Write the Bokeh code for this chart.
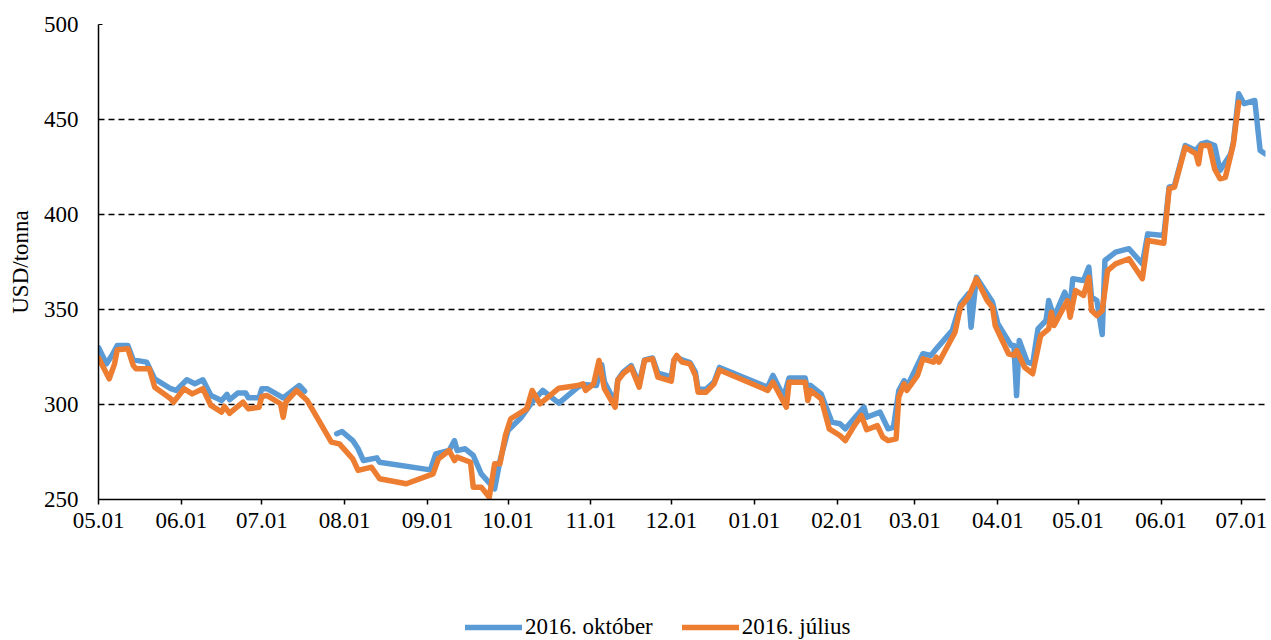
import numpy as np
import pandas as pd
from bokeh.plotting import figure
from bokeh.layouts import column
from bokeh.models import Range1d, FixedTicker, DatetimeTickFormatter, Legend, LegendItem
from bokeh.embed import file_html
from bokeh.resources import INLINE

# ---------------- data ----------------
tick_dates = ["2015-05-01", "2015-06-01", "2015-07-01", "2015-08-01", "2015-09-01", "2015-10-01",
              "2015-11-01", "2015-12-01", "2016-01-01", "2016-02-01", "2016-03-01", "2016-04-01",
              "2016-05-01", "2016-06-01", "2016-07-01"]
tick_labels = ["05.01", "06.01", "07.01", "08.01", "09.01", "10.01", "11.01", "12.01",
               "01.01", "02.01", "03.01", "04.01", "05.01", "06.01", "07.01"]

oct_dates = ["2015-05-01", "2015-05-04", "2015-05-06", "2015-05-08", "2015-05-12", "2015-05-14",
             "2015-05-19", "2015-05-22", "2015-05-28", "2015-05-30", "2015-06-03", "2015-06-06",
             "2015-06-09", "2015-06-12", "2015-06-16", "2015-06-18", "2015-06-19", "2015-06-22",
             "2015-06-25", "2015-06-26", "2015-06-30", "2015-07-01", "2015-07-03", "2015-07-09",
             "2015-07-15", "2015-07-17", "2015-07-22", "2015-07-29", "2015-07-31", "2015-08-04",
             "2015-08-06", "2015-08-08", "2015-08-13", "2015-08-14", "2015-09-02", "2015-09-04",
             "2015-09-09", "2015-09-11", "2015-09-12", "2015-09-15", "2015-09-18", "2015-09-21",
             "2015-09-26", "2015-09-28", "2015-10-01", "2015-10-06", "2015-10-10", "2015-10-14",
             "2015-10-20", "2015-10-27", "2015-10-29", "2015-11-03", "2015-11-05", "2015-11-06",
             "2015-11-10", "2015-11-11", "2015-11-13", "2015-11-16", "2015-11-19", "2015-11-21",
             "2015-11-24", "2015-11-26", "2015-12-01", "2015-12-02", "2015-12-03", "2015-12-05",
             "2015-12-08", "2015-12-10", "2015-12-11", "2015-12-14", "2015-12-17", "2015-12-19",
             "2016-01-06", "2016-01-08", "2016-01-12", "2016-01-14", "2016-01-20", "2016-01-21",
             "2016-01-22", "2016-01-26", "2016-01-30", "2016-02-02", "2016-02-04", "2016-02-11",
             "2016-02-12", "2016-02-17", "2016-02-20", "2016-02-22", "2016-02-24", "2016-02-26",
             "2016-02-27", "2016-03-04", "2016-03-07", "2016-03-09", "2016-03-15", "2016-03-18",
             "2016-03-21", "2016-03-22", "2016-03-24", "2016-03-30", "2016-04-01", "2016-04-06",
             "2016-04-07", "2016-04-08", "2016-04-09", "2016-04-12", "2016-04-14", "2016-04-16",
             "2016-04-19", "2016-04-20", "2016-04-22", "2016-04-26", "2016-04-28", "2016-04-29",
             "2016-05-03", "2016-05-05", "2016-05-06", "2016-05-08", "2016-05-10", "2016-05-11",
             "2016-05-15", "2016-05-20", "2016-05-25", "2016-05-27", "2016-06-02", "2016-06-04",
             "2016-06-06", "2016-06-10", "2016-06-14", "2016-06-16", "2016-06-18", "2016-06-21",
             "2016-06-23", "2016-06-27", "2016-06-28", "2016-06-30", "2016-07-02", "2016-07-06",
             "2016-07-08", "2016-07-10"]
oct_values = [330.0, 321.4, 325.8, 331.0, 331.0, 323.5,
              322.3, 313.5, 308.3, 307.4, 313.0, 310.9,
              313.0, 304.7, 302.1, 305.3, 302.5, 306.0,
              306.0, 303.5, 303.5, 308.3, 308.3, 303.5,
              310.0, 307.0, np.nan, 284.6, 285.8, 281.0,
              276.7, 270.5, 271.9, 269.6, 265.6, 274.0,
              275.8, 281.0, 275.8, 276.7, 273.2, 263.5,
              255.6, 270.5, 286.3, 293.3, 301.2, 307.4,
              300.7, 309.0, 310.5, 310.0, 321.0, 312.0,
              301.0, 313.0, 317.0, 320.5, 311.0, 323.5,
              324.5, 316.5, 314.5, 323.5, 325.0, 323.5,
              322.0, 317.0, 308.0, 308.0, 312.0, 319.5,
              309.1, 315.3, 303.9, 314.0, 314.0, 307.4,
              310.0, 305.6, 290.7, 289.9, 287.2, 298.6,
              293.3, 296.0, 287.2, 288.0, 307.4, 312.6,
              309.1, 326.7, 325.8, 329.3, 339.0, 353.0,
              358.3, 340.7, 367.0, 353.9, 342.5, 331.0,
              331.0, 304.7, 333.7, 322.3, 321.4, 339.8,
              344.2, 354.7, 345.9, 359.1, 351.2, 366.2,
              365.3, 372.3, 356.5, 354.7, 336.8, 375.8,
              380.2, 382.0, 374.0, 389.8, 388.9, 414.4,
              415.3, 436.3, 433.7, 437.2, 438.0, 436.3,
              423.2, 431.9, 438.0, 463.5, 458.3, 460.0,
              433.7, 431.9]

jul_dates = ["2015-05-01", "2015-05-05", "2015-05-07", "2015-05-08", "2015-05-12", "2015-05-14",
             "2015-05-15", "2015-05-20", "2015-05-22", "2015-05-28", "2015-05-29", "2015-06-02",
             "2015-06-05", "2015-06-09", "2015-06-12", "2015-06-16", "2015-06-17", "2015-06-19",
             "2015-06-24", "2015-06-26", "2015-06-30", "2015-07-01", "2015-07-03", "2015-07-08",
             "2015-07-09", "2015-07-10", "2015-07-14", "2015-07-18", "2015-07-27", "2015-07-30",
             "2015-08-04", "2015-08-06", "2015-08-11", "2015-08-14", "2015-08-24", "2015-09-03",
             "2015-09-05", "2015-09-09", "2015-09-11", "2015-09-12", "2015-09-17", "2015-09-18",
             "2015-09-21", "2015-09-24", "2015-09-26", "2015-09-28", "2015-09-30", "2015-10-02",
             "2015-10-08", "2015-10-10", "2015-10-13", "2015-10-20", "2015-10-27", "2015-10-29",
             "2015-10-30", "2015-11-02", "2015-11-04", "2015-11-06", "2015-11-10", "2015-11-11",
             "2015-11-13", "2015-11-16", "2015-11-19", "2015-11-21", "2015-11-24", "2015-11-26",
             "2015-12-01", "2015-12-02", "2015-12-03", "2015-12-05", "2015-12-08", "2015-12-10",
             "2015-12-11", "2015-12-14", "2015-12-17", "2015-12-19", "2016-01-06", "2016-01-08",
             "2016-01-13", "2016-01-14", "2016-01-20", "2016-01-21", "2016-01-22", "2016-01-26",
             "2016-01-29", "2016-02-02", "2016-02-04", "2016-02-07", "2016-02-10", "2016-02-12",
             "2016-02-16", "2016-02-18", "2016-02-20", "2016-02-23", "2016-02-24", "2016-02-26",
             "2016-02-27", "2016-03-02", "2016-03-04", "2016-03-08", "2016-03-09", "2016-03-10",
             "2016-03-16", "2016-03-18", "2016-03-21", "2016-03-24", "2016-03-28", "2016-03-30",
             "2016-03-31", "2016-04-05", "2016-04-07", "2016-04-08", "2016-04-11", "2016-04-14",
             "2016-04-17", "2016-04-20", "2016-04-21", "2016-04-22", "2016-04-27", "2016-04-28",
             "2016-04-30", "2016-05-03", "2016-05-05", "2016-05-06", "2016-05-08", "2016-05-10",
             "2016-05-12", "2016-05-15", "2016-05-20", "2016-05-25", "2016-05-27", "2016-06-02",
             "2016-06-04", "2016-06-06", "2016-06-10", "2016-06-14", "2016-06-15", "2016-06-16",
             "2016-06-19", "2016-06-21", "2016-06-23", "2016-06-25", "2016-06-28", "2016-06-30"]
jul_values = [324.6, 313.5, 321.4, 328.8, 329.3, 320.5,
              318.8, 318.8, 309.1, 303.0, 301.2, 308.3,
              305.6, 308.3, 299.5, 296.0, 299.0, 295.4,
              301.2, 297.7, 298.6, 304.2, 304.7, 300.4,
              293.3, 301.2, 307.4, 302.1, 280.2, 279.3,
              271.4, 265.3, 267.0, 260.9, 258.3, 263.5,
              271.4, 275.8, 270.5, 272.3, 269.6, 256.5,
              256.5, 251.2, 268.8, 268.8, 283.7, 292.5,
              297.7, 307.4, 300.4, 308.6, 310.0, 310.9,
              307.4, 310.9, 323.2, 308.3, 298.6, 312.6,
              316.2, 319.6, 309.1, 323.2, 324.0, 314.4,
              312.3, 323.2, 325.8, 322.3, 321.4, 315.3,
              306.5, 306.5, 310.9, 318.2, 307.4, 311.7,
              298.6, 311.7, 311.7, 302.1, 307.4, 303.0,
              287.2, 283.7, 281.0, 288.0, 294.2, 286.7,
              288.9, 282.8, 281.0, 281.9, 303.9, 310.9,
              307.4, 315.3, 324.0, 322.3, 324.9, 322.3,
              338.0, 351.2, 356.5, 366.2, 354.7, 351.2,
              341.6, 326.7, 325.8, 328.4, 319.6, 316.2,
              336.3, 339.8, 348.6, 341.6, 354.7, 345.9,
              360.0, 357.4, 367.0, 349.5, 346.8, 349.5,
              370.5, 374.0, 376.7, 366.2, 386.3, 384.9,
              413.6, 414.4, 435.4, 431.9, 426.6, 436.3,
              436.3, 424.0, 418.8, 419.6, 437.2, 459.1]

series_names = ["2016. október", "2016. július"]
series_colors = ["#5B9BD5", "#ED7D31"]

# ---------------- main figure ----------------
FONT = "Liberation Serif"
FS = "23px"
LW = 5.5

x_start = pd.Timestamp("2015-05-01")
x_end = pd.Timestamp("2016-07-10")

p = figure(width=1268, height=541, x_axis_type="datetime",
           x_range=Range1d(x_start, x_end), y_range=Range1d(250, 500),
           output_backend="svg", toolbar_location=None,
           min_border_left=98, min_border_right=3, min_border_top=24, min_border_bottom=42)
p.outline_line_color = None

p.line(pd.to_datetime(oct_dates), oct_values, line_color=series_colors[0], line_width=LW,
       line_join="round", line_cap="round")
p.line(pd.to_datetime(jul_dates), jul_values, line_color=series_colors[1], line_width=LW,
       line_join="round", line_cap="round")

tick_ms = [pd.Timestamp(d).value / 1e6 for d in tick_dates]
p.xaxis.ticker = FixedTicker(ticks=tick_ms)
p.xaxis.major_label_overrides = {t: l for t, l in zip(tick_ms, tick_labels)}
p.xaxis.formatter = DatetimeTickFormatter(months="%m.%d", days="%m.%d")
p.xaxis.major_tick_out = 5
p.xaxis.major_tick_in = 0
p.xaxis.minor_tick_line_color = None
p.xaxis.axis_line_color = "black"
p.xaxis.axis_line_width = 1.5
p.xaxis.major_tick_line_width = 1.5
p.xaxis.major_label_text_font = FONT
p.xaxis.major_label_text_font_size = FS
p.xaxis.major_label_text_color = "black"
p.xaxis.major_label_standoff = 8

p.yaxis.ticker = FixedTicker(ticks=[250, 300, 350, 400, 450, 500])
p.yaxis.major_tick_out = 0
p.yaxis.major_tick_in = 4
p.yaxis.minor_tick_line_color = None
p.yaxis.axis_line_color = "black"
p.yaxis.axis_line_width = 1.5
p.yaxis.major_label_text_font = FONT
p.yaxis.major_label_text_font_size = FS
p.yaxis.major_label_text_color = "black"
p.yaxis.major_label_standoff = 20
p.yaxis.axis_label = "USD/tonna"
p.yaxis.axis_label_text_font = FONT
p.yaxis.axis_label_text_font_size = FS
p.yaxis.axis_label_text_font_style = "normal"
p.yaxis.axis_label_text_color = "black"
p.yaxis.axis_label_standoff = 8

p.xgrid.grid_line_color = None
p.ygrid.grid_line_color = "black"
p.ygrid.grid_line_width = 1.5
p.ygrid.grid_line_dash = "6 4"

# ---------------- legend strip ----------------
lg = figure(width=1268, height=99, x_range=Range1d(0, 1), y_range=Range1d(0, 1),
            output_backend="svg", toolbar_location=None,
            min_border_left=0, min_border_right=0, min_border_top=0, min_border_bottom=0)
lg.axis.visible = False
lg.grid.visible = False
lg.outline_line_color = None
# key renderers sit outside the visible range; they only supply the legend swatches
k_oct = lg.line(x=[2, 3], y=[2, 2], line_color=series_colors[0], line_width=LW, line_cap="round")
k_jul = lg.line(x=[2, 3], y=[2, 2], line_color=series_colors[1], line_width=LW, line_cap="round")

legend = Legend(items=[LegendItem(label=series_names[0], renderers=[k_oct]),
                       LegendItem(label=series_names[1], renderers=[k_jul])],
                location=(367, 0), orientation="horizontal",
                border_line_alpha=0, background_fill_alpha=0, margin=0,
                glyph_width=57, glyph_height=22, padding=0, spacing=29, label_standoff=3,
                label_text_font=FONT, label_text_font_size=FS, label_text_color="black")
lg.add_layout(legend, "center")

open("out.html", "w").write(file_html(column(p, lg, spacing=0), INLINE))
